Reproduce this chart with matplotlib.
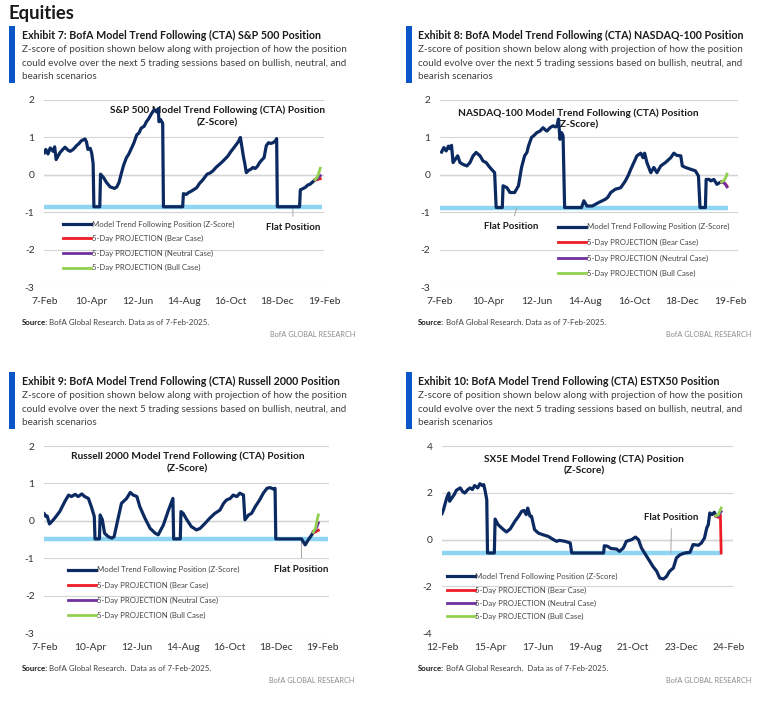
import matplotlib
matplotlib.use('Agg')
import matplotlib.pyplot as plt
from matplotlib.patches import Rectangle

W, H = 769, 712

# ---------------- data (x = calendar days from first tick) ----------------
tick_days = [0, 63, 126, 189, 252, 315, 378]
us_ticks = ['7-Feb', '10-Apr', '12-Jun', '14-Aug', '16-Oct', '18-Dec', '19-Feb']
eu_ticks = ['12-Feb', '15-Apr', '17-Jun', '19-Aug', '21-Oct', '23-Dec', '24-Feb']

# S&P 500
spx_days = [0, 2, 5, 8, 12, 14, 16, 21, 25, 28, 32, 35, 39, 44, 47, 50, 55, 57, 59, 62,
            64, 66, 67, 75, 76, 80, 84, 89, 95, 98, 101, 104, 107, 111, 114, 118, 121, 125,
            128, 131, 135, 138, 141, 145, 147, 149, 152, 154, 155, 157, 160, 161, 187, 188,
            192, 195, 199, 203, 206, 210, 213, 217, 220, 224, 228, 232, 236, 240, 244, 248,
            252, 256, 259, 262, 265, 267, 269, 271, 273, 276, 279, 282, 285, 288, 291, 294,
            297, 300, 303, 306, 309, 312, 314, 315, 345, 346, 350, 353, 356, 359, 362, 366]
spx_vals = [0.59, 0.68, 0.56, 0.72, 0.63, 0.75, 0.41, 0.59, 0.68, 0.74, 0.66, 0.63, 0.68, 0.79,
            0.84, 0.91, 0.96, 0.88, 0.68, 0.71, 0.59, 0.30, -0.85, -0.85, 0.02, -0.07, -0.20,
            -0.32, -0.36, -0.32, -0.20, 0.03, 0.25, 0.46, 0.55, 0.72, 0.85, 1.07, 1.12, 1.25,
            1.30, 1.42, 1.50, 1.64, 1.70, 1.73, 1.68, 1.77, 1.42, 1.48, 1.38, -0.85, -0.85,
            -0.50, -0.52, -0.47, -0.43, -0.38, -0.34, -0.22, -0.16, -0.06, 0.02, 0.05, 0.11,
            0.20, 0.27, 0.34, 0.42, 0.50, 0.62, 0.72, 0.80, 0.88, 1.00, 0.75, 0.50, 0.30, 0.06,
            0.12, 0.15, 0.20, 0.17, 0.23, 0.33, 0.40, 0.46, 0.78, 0.86, 0.84, 0.86, 0.90, 0.97,
            -0.85, -0.85, -0.40, -0.36, -0.33, -0.27, -0.25, -0.20, -0.13]
us_proj_days = [366, 369, 370, 371, 372, 373]
spx_bear = [-0.13, -0.13, -0.12, -0.11, -0.10, -0.10]
spx_neutral = [-0.13, -0.10, -0.08, -0.05, -0.04, -0.02]
spx_bull = [-0.13, -0.05, 0.00, 0.05, 0.12, 0.18]
spx_flat = -0.85

# NASDAQ-100
ndx_days = [2, 5, 8, 11, 13, 15, 17, 20, 23, 26, 30, 35, 39, 43, 47, 52, 56, 60, 64, 67, 71,
            73, 81, 82, 87, 91, 97, 102, 106, 110, 113, 115, 119, 122, 126, 130, 134, 137, 139,
            143, 147, 150, 152, 154, 156, 158, 160, 162, 184, 187, 191, 198, 206, 215, 218, 222,
            228, 232, 235, 241, 245, 248, 252, 256, 261, 264, 266, 269, 274, 278, 282, 287, 293,
            300, 304, 308, 313, 315, 319, 326, 332, 336, 338, 345, 346, 350, 352, 356, 360, 364,
            366]
ndx_vals = [0.61, 0.73, 0.64, 0.77, 0.70, 0.79, 0.33, 0.42, 0.51, 0.33, 0.28, 0.24, 0.33, 0.51,
            0.60, 0.51, 0.37, 0.33, 0.22, 0.15, 0.06, -0.87, -0.87, -0.29, -0.34, -0.47, -0.47,
            -0.29, 0.20, 0.51, 0.60, 0.77, 1.00, 1.05, 1.13, 1.17, 1.26, 1.20, 1.17, 1.26, 1.31,
            1.28, 1.31, 1.49, 0.95, 1.13, 1.04, -0.87, -0.87, -0.69, -0.83, -0.83, -0.74, -0.65,
            -0.60, -0.47, -0.38, -0.36, -0.34, -0.16, 0.00, 0.15, 0.33, 0.51, 0.58, 0.46, 0.58,
            0.33, 0.06, 0.20, 0.06, 0.24, 0.33, 0.46, 0.58, 0.52, 0.51, 0.24, 0.20, 0.15, 0.11,
            -0.03, -0.87, -0.87, -0.12, -0.12, -0.16, -0.12, -0.25, -0.20, -0.19]
ndx_bear = [-0.19, -0.20, -0.22, -0.25, -0.27, -0.30]
ndx_neutral = [-0.19, -0.20, -0.23, -0.25, -0.28, -0.32]
ndx_bull = [-0.19, -0.15, -0.12, -0.08, -0.04, 0.02]
ndx_flat = -0.87

# Russell 2000
rty_days = [0, 2, 4, 7, 10, 14, 21, 28, 33, 37, 42, 46, 51, 55, 60, 64, 68, 69, 75, 76, 79, 82,
            87, 92, 95, 101, 105, 112, 117, 121, 126, 130, 137, 144, 151, 155, 162, 169, 175,
            176, 185, 186, 189, 194, 200, 207, 212, 219, 225, 232, 239, 244, 248, 253, 257, 262,
            266, 271, 273, 278, 282, 287, 293, 298, 303, 307, 312, 314, 315, 350, 355, 359, 364,
            366]
rty_vals = [0.19, 0.12, 0.13, -0.08, -0.02, 0.07, 0.25, 0.52, 0.69, 0.65, 0.71, 0.65, 0.72, 0.65,
            0.60, 0.38, 0.12, -0.48, -0.48, 0.16, 0.03, -0.33, -0.42, -0.46, -0.42, 0.12, 0.47,
            0.60, 0.76, 0.69, 0.65, 0.38, 0.07, -0.20, -0.33, -0.37, -0.11, 0.29, 0.60, -0.48,
            -0.48, 0.25, 0.20, 0.03, -0.15, -0.24, -0.20, -0.06, 0.07, 0.20, 0.29, 0.47, 0.56,
            0.60, 0.69, 0.65, 0.74, 0.69, 0.03, 0.16, 0.20, 0.38, 0.56, 0.74, 0.87, 0.89, 0.85,
            0.87, -0.48, -0.48, -0.64, -0.51, -0.37, -0.30]
rty_bear = [-0.30, -0.30, -0.28, -0.27, -0.26, -0.25]
rty_neutral = [-0.30, -0.25, -0.20, -0.15, -0.10, -0.05]
rty_bull = [-0.30, -0.20, -0.10, 0.00, 0.10, 0.16]
rty_flat = -0.48

# SX5E
sx5e_days = [0, 2, 5, 7, 9, 10, 13, 16, 19, 24, 27, 30, 34, 37, 40, 43, 47, 50, 53, 55, 57, 59,
             60, 69, 70, 74, 81, 85, 90, 96, 101, 105, 108, 111, 113, 116, 118, 122, 127, 133,
             140, 147, 151, 155, 162, 169, 171, 213, 214, 218, 223, 230, 234, 239, 243, 250, 255,
             259, 263, 267, 274, 278, 283, 287, 292, 296, 300, 305, 309, 314, 320, 327, 331, 338,
             342, 346, 349, 351, 353, 356, 359, 361]
sx5e_vals = [1.11, 1.28, 1.64, 1.85, 1.99, 1.64, 1.78, 1.92, 2.11, 2.21, 2.06, 1.99, 2.14, 2.21,
             2.14, 2.31, 2.21, 2.39, 2.31, 2.35, 2.06, 1.71, -0.57, -0.57, 0.88, 0.64, 0.43, 0.33,
             0.46, 0.78, 1.00, 1.21, 1.25, 1.07, 1.35, 1.00, 1.00, 0.43, 0.28, 0.21, 0.14, 0.00,
             -0.07, -0.03, -0.07, -0.14, -0.57, -0.57, -0.26, -0.28, -0.38, -0.40, -0.50, -0.36,
             -0.07, 0.00, 0.11, 0.00, -0.36, -0.57, -0.93, -1.14, -1.35, -1.64, -1.68, -1.57,
             -1.35, -1.21, -0.78, -0.64, -0.57, -0.54, -0.21, -0.24, -0.14, 0.07, 0.50, 0.64,
             1.14, 1.07, 1.17, 1.02]
eu_proj_days = [361, 364, 365, 366, 367, 368]
sx5e_bear = [1.02, 0.95, 0.98, 1.02, 1.05, -0.57]
sx5e_neutral = [1.02, 1.00, 1.05, 1.10, 1.15, 1.20]
sx5e_bull = [1.02, 1.05, 1.12, 1.20, 1.28, 1.35]
sx5e_flat = -0.57

legend_labels = ['Model Trend Following Position (Z-Score)', '5-Day PROJECTION (Bear Case)',
                 '5-Day PROJECTION (Neutral Case)', '5-Day PROJECTION (Bull Case)']

# ---------------- style ----------------
plt.rcParams['font.family'] = ['Lato', 'DejaVu Sans']
plt.rcParams['axes.unicode_minus'] = False
NAVY = '#0c2a62'
SKY = '#8dd5f2'
RED = '#ee1c25'
PURPLE = '#7030a0'
GREEN = '#92d050'
BAR_BLUE = '#0a56c8'

fig = plt.figure(figsize=(W / 100, H / 100), dpi=100)
rend = fig.canvas.get_renderer()


def fx(x):
    return x / W


def fy(y):
    return 1 - y / H


def header(x, y, title, subtitle, source, y_src, x_right):
    fig.add_artist(Rectangle((fx(x - 12.7), fy(y + 48)), 6 / W, 57 / H,
                             transform=fig.transFigure, color=BAR_BLUE, lw=0))
    fig.text(fx(x), fy(y), title, fontsize=7.7, fontweight='bold', color='#1a1a1a', va='center')
    for i, line in enumerate(subtitle):
        fig.text(fx(x), fy(y + 15 + i * 13.2), line, fontsize=7.1, color='#404040', va='center')
    t = fig.text(fx(x), fy(y_src), 'Source:', fontsize=5.7, fontweight='bold', color='#1a1a1a',
                 va='center')
    w = t.get_window_extent(renderer=rend).width
    fig.text(fx(x + w + 1.5), fy(y_src), source, fontsize=5.7, color='#404040', va='center')
    fig.text(fx(x_right), fy(y_src + 11.7), 'BofA GLOBAL RESEARCH', fontsize=5.3,
             color='#8c8c8c', va='center', ha='right')


def make_axes(x0, x1, ytop, ybot, xmax, ylim, yticks, xlabels):
    ax = fig.add_axes([fx(x0), fy(ybot), (x1 - x0) / W, (ybot - ytop) / H])
    ax.set_xlim(0, xmax)
    ax.set_ylim(*ylim)
    ax.set_yticks(yticks)
    ax.set_xticks(tick_days)
    ax.set_xticklabels(xlabels)
    for s in ax.spines.values():
        s.set_visible(False)
    ax.tick_params(length=0, labelsize=7.4, colors='#333333')
    ax.tick_params(axis='y', pad=7)
    ax.tick_params(axis='x', pad=7)
    ax.grid(axis='y', color='#d4d4d4', lw=0.8, zorder=0)
    ax.axhline(0, color='#3a3a3a', lw=0.8, zorder=1)
    return ax


def draw(ax, days, vals, pdays, bear, neutral, bull, flat, flat_end):
    ax.plot([0, flat_end], [flat, flat], color=SKY, lw=3.2, solid_capstyle='butt', zorder=2)
    ax.plot(days, vals, color=NAVY, lw=2.3, zorder=3, solid_joinstyle='round', label=legend_labels[0])
    ax.plot(pdays, bear, color=RED, lw=2.0, zorder=4, label=legend_labels[1])
    ax.plot(pdays, neutral, color=PURPLE, lw=2.0, zorder=4, label=legend_labels[2])
    ax.plot(pdays, bull, color=GREEN, lw=2.0, zorder=4, label=legend_labels[3])


def legend(ax, x, y, spacing):
    ax.legend(loc='upper left', bbox_to_anchor=(x, y), bbox_transform=ax.transData,
              frameon=False, prop={'size': 5.6}, labelcolor='#444444',
              handlelength=3.6, handletextpad=0.1, labelspacing=spacing, borderpad=0,
              borderaxespad=0)


def chart_title(ax, x, y, name):
    ax.text(x, y, name + ' Model Trend Following (CTA) Position\n(Z-Score)', ha='center',
            va='center', fontsize=7.3, fontweight='bold', color='#1a1a1a', linespacing=1.35,
            zorder=2.5)


def flat_note(ax, xy, xytext, shrink):
    ax.annotate('Flat Position', xy=xy, xytext=xytext, ha='center', va='center', fontsize=6.9,
                fontweight='bold', color='#1a1a1a', zorder=2,
                arrowprops=dict(arrowstyle='-', color='#a6a6a6', lw=0.7, shrinkA=shrink, shrinkB=0))


fig.text(fx(8), fy(14), 'Equities', fontsize=13.3, fontweight='bold', color='#1a1a1a', va='center')

sub = ['Z-score of position shown below along with projection of how the position',
       'could evolve over the next 5 trading sessions based on bullish, neutral, and',
       'bearish scenarios']

# ---- Exhibit 7 ----
header(21.7, 35, 'Exhibit 7: BofA Model Trend Following (CTA) S&P 500 Position', sub,
       'BofA Global Research. Data as of 7-Feb-2025.', 322.7, 355)
ax1 = make_axes(44.3, 324, 100, 287.3, 378, (-3, 2), range(-3, 3), us_ticks)
draw(ax1, spx_days, spx_vals, us_proj_days, spx_bear, spx_neutral, spx_bull, spx_flat, 375)
chart_title(ax1, 234, 1.56, 'S&P 500')
flat_note(ax1, (336, spx_flat), (336, -1.41), 3)
legend(ax1, 25.6, -1.22, 0.95)

# ---- Exhibit 8 ----
header(418.3, 35, 'Exhibit 8: BofA Model Trend Following (CTA) NASDAQ-100 Position', sub,
       'BofA Global Research. Data as of 7-Feb-2025.', 322.7, 751.7)
ax2 = make_axes(440, 737.7, 100, 287.3, 387, (-3, 2), range(-3, 3), us_ticks)
draw(ax2, ndx_days, ndx_vals, us_proj_days, ndx_bear, ndx_neutral, ndx_bull, ndx_flat, 375)
chart_title(ax2, 179.5, 1.5, 'NASDAQ-100')
flat_note(ax2, (100, ndx_flat), (92, -1.39), 3)
legend(ax2, 153.4, -1.29, 1.08)

# ---- Exhibit 9 ----
header(21.7, 381, 'Exhibit 9: BofA Model Trend Following (CTA) Russell 2000 Position', sub,
       'BofA Global Research.  Data as of 7-Feb-2025.', 668.7, 354)
ax3 = make_axes(44.3, 329.3, 446, 633.3, 387.8, (-3, 2), range(-3, 3), us_ticks)
draw(ax3, rty_days, rty_vals, us_proj_days, rty_bear, rty_neutral, rty_bull, rty_flat, 386)
chart_title(ax3, 195, 1.56, 'Russell 2000')
flat_note(ax3, (350, rty_flat), (350, -1.29), 3)
legend(ax3, 32.7, -1.21, 1.02)

# ---- Exhibit 10 ----
header(418.3, 381, 'Exhibit 10: BofA Model Trend Following (CTA) ESTX50 Position', sub,
       'BofA Global Research.  Data as of 7-Feb-2025.', 668.7, 751.7)
ax4 = make_axes(442, 733.3, 446, 633.3, 384, (-4, 4), [-4, -2, 0, 2, 4], eu_ticks)
draw(ax4, sx5e_days, sx5e_vals, eu_proj_days, sx5e_bear, sx5e_neutral, sx5e_bull, sx5e_flat, 368)
chart_title(ax4, 187, 3.2, 'SX5E')
flat_note(ax4, (301.7, sx5e_flat), (302.6, 0.93), 2.5)
legend(ax4, 6.2, -1.43, 0.78)

fig.savefig('out.png', dpi=100)
